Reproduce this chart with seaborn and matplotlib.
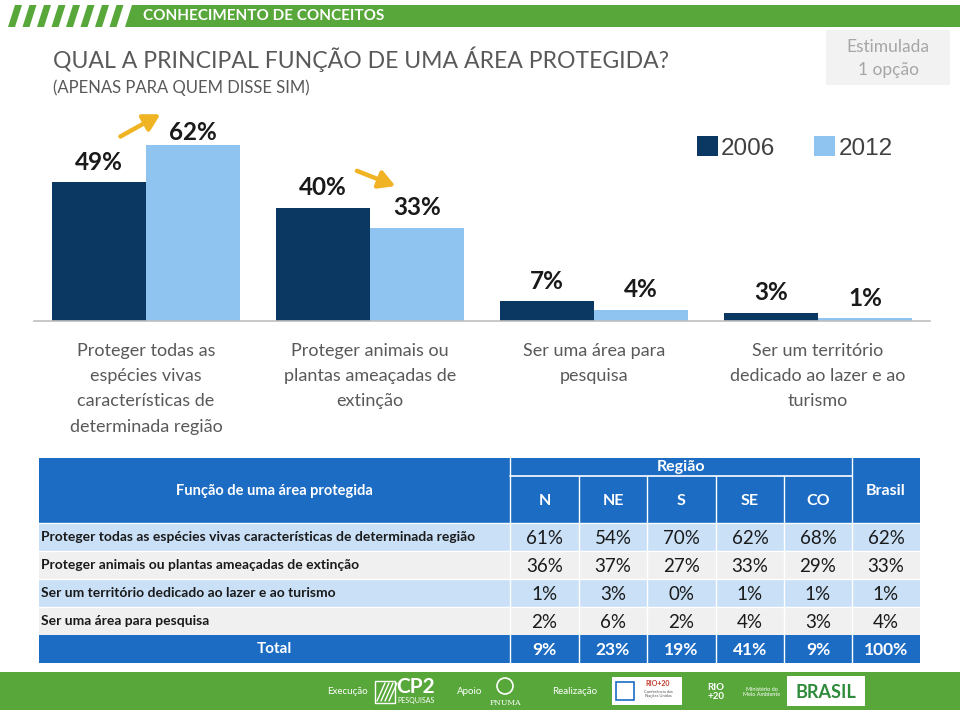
import pandas as pd
import seaborn as sns
import matplotlib.pyplot as plt
from matplotlib.patches import Rectangle, Polygon

# chart data
categorias = [
    "Proteger todas as\nespécies vivas\ncaracterísticas de\ndeterminada região",
    "Proteger animais ou\nplantas ameaçadas de\nextinção",
    "Ser uma área para\npesquisa",
    "Ser um território\ndedicado ao lazer e ao\nturismo",
]
anos = ["2006", "2012"]
valores_2006 = [49, 40, 7, 3]
valores_2012 = [62, 33, 4, 1]

# table data
regioes = ["N", "NE", "S", "SE", "CO"]
linhas = [
    "Proteger todas as espécies vivas características de determinada região",
    "Proteger animais ou plantas ameaçadas de extinção",
    "Ser um território dedicado ao lazer e ao turismo",
    "Ser uma área para pesquisa",
]
tabela = [
    [61, 54, 70, 62, 68, 62],
    [36, 37, 27, 33, 29, 33],
    [1, 3, 0, 1, 1, 1],
    [2, 6, 2, 4, 3, 4],
]
total = [9, 23, 19, 41, 9, 100]

sns.set_theme(style="white")
plt.rcParams["font.family"] = ["Lato", "DejaVu Sans"]

DARK = "#0B3763"
LIGHT = "#8FC3F0"
GREEN = "#58A73A"
BLUE = "#1C6CC4"

fig = plt.figure(figsize=(9.6, 7.1), dpi=100)

# background canvas in pixel units
bg = fig.add_axes([0, 0, 1, 1])
bg.set_xlim(0, 960)
bg.set_ylim(710, 0)
bg.axis("off")

# header band
for i in range(8):
    x0 = 8 + i * 14.5
    bg.add_patch(Polygon([(x0, 27), (x0 + 7, 27), (x0 + 14, 5), (x0 + 7, 5)], color=GREEN, lw=0))
bg.add_patch(Polygon([(125, 27), (960, 27), (960, 5), (132, 5)], color=GREEN, lw=0))
bg.text(143, 16.5, "CONHECIMENTO DE CONCEITOS", color="white", fontsize=11, fontweight="bold", va="center")

# title
bg.text(53, 59, "QUAL A PRINCIPAL FUNÇÃO DE UMA ÁREA PROTEGIDA?", color="#595959", fontsize=16.6, va="center")
bg.text(53, 88, "(APENAS PARA QUEM DISSE SIM)", color="#595959", fontsize=12, va="center")

# "Estimulada" box
bg.add_patch(Rectangle((826, 30), 124, 55, color="#F2F2F2", lw=0))
bg.text(888, 47, "Estimulada", color="#A6A6A6", fontsize=12.5, ha="center", va="center")
bg.text(888, 70, "1 opção", color="#A6A6A6", fontsize=12.5, ha="center", va="center")

# bar chart
df = pd.DataFrame({
    "categoria": categorias * 2,
    "ano": [anos[0]] * 4 + [anos[1]] * 4,
    "valor": valores_2006 + valores_2012,
})

ax = fig.add_axes([34 / 960, (710 - 321) / 710, 896 / 960, 201 / 710])
ax.set_facecolor("none")
sns.barplot(data=df, x="categoria", y="valor", hue="ano", palette=[DARK, LIGHT],
            width=0.84, saturation=1, linewidth=0, ax=ax)
ax.set_xlim(-0.5, 3.5)
ax.set_ylim(0, 71)
ax.set_yticks([])
ax.set_xlabel("")
ax.set_ylabel("")
for s in ["top", "left", "right"]:
    ax.spines[s].set_visible(False)
ax.spines["bottom"].set_color("#BFBFBF")
ax.spines["bottom"].set_linewidth(1.2)
ax.tick_params(axis="x", length=0, pad=16)
for lbl in ax.get_xticklabels():
    lbl.set_fontsize(13)
    lbl.set_color("#595959")
    lbl.set_linespacing(1.7)
    lbl.set_va("top")

for ci, cont in enumerate(ax.containers):
    for bi, bar in enumerate(cont):
        val = bar.get_height()
        pad = 1 if (ci == 1 and bi == 0) else 6
        ax.annotate(f"{val:.0f}%", (bar.get_x() + bar.get_width() / 2, val),
                    xytext=(0, pad), textcoords="offset points", ha="center", va="bottom",
                    fontsize=17.5, fontweight="bold", color="#1A1A1A", annotation_clip=False)

# trend arrows
arrows = [((-0.125, 64.7), (0.075, 73.5)), ((0.93, 53.4), (1.125, 47.3))]
for (x0, y0), (x1, y1) in arrows:
    ax.annotate("", xy=(x1, y1), xytext=(x0, y0), annotation_clip=False,
                arrowprops=dict(arrowstyle="-|>,head_length=0.8,head_width=0.45", color="#F0B323", lw=3.2))

leg = ax.legend(loc="center left", bbox_to_anchor=(675 / 960, (710 - 148) / 710),
                bbox_transform=fig.transFigure, ncol=2, frameon=False,
                handlelength=0.85, handleheight=0.85, handletextpad=0.15, columnspacing=1.6,
                prop={"family": "Liberation Sans", "size": 17.5})
for t in leg.get_texts():
    t.set_color("#404040")

# table
cols_x = [39, 510, 579, 647, 716, 784, 852, 920]
top, head_bot = 458, 523
row_h = 28
bg.add_patch(Rectangle((39, top), 881, head_bot - top, color=BLUE, lw=0))
bg.plot([510, 852], [476, 476], color="white", lw=1.2)
for x in cols_x[1:-1]:
    y0 = 476 if x not in (510, 852) else top
    bg.plot([x, x], [y0, head_bot], color="white", lw=1)
bg.text(274, 491, "Função de uma área protegida", color="white", fontsize=10.5, fontweight="bold", ha="center", va="center")
bg.text(681, 467, "Região", color="white", fontsize=11.5, fontweight="bold", ha="center", va="center")
for j, r in enumerate(regioes):
    bg.text((cols_x[j + 1] + cols_x[j + 2]) / 2, 501, r, color="white", fontsize=11.5,
            fontweight="bold", ha="center", va="center")
bg.text(886, 491, "Brasil", color="white", fontsize=11.5, fontweight="bold", ha="center", va="center")

for i, (nome, vals) in enumerate(zip(linhas, tabela)):
    y = head_bot + i * row_h
    bg.add_patch(Rectangle((39, y), 881, row_h, color="#C9E0F7" if i % 2 == 0 else "#F0F0F0", lw=0))
    bg.text(41, y + row_h / 2, nome, color="#1A1A1A", fontsize=10, fontweight="bold", va="center")
    for j, v in enumerate(vals):
        bg.text((cols_x[j + 1] + cols_x[j + 2]) / 2, y + row_h / 2 + 1, f"{v}%", color="#1A1A1A",
                fontsize=13.5, ha="center", va="center")
    for x in cols_x[1:-1]:
        bg.plot([x, x], [y, y + row_h], color="white", lw=1)
    bg.plot([39, 920], [y, y], color="white", lw=1)

y = head_bot + 4 * row_h
bg.add_patch(Rectangle((39, y), 881, row_h, color=BLUE, lw=0))
bg.text(274, y + row_h / 2, "Total", color="white", fontsize=11, fontweight="bold", ha="center", va="center")
for j, v in enumerate(total):
    bg.text((cols_x[j + 1] + cols_x[j + 2]) / 2, y + row_h / 2 + 1, f"{v}%", color="white",
            fontsize=12.5, fontweight="bold", ha="center", va="center")
for x in cols_x[1:-1]:
    bg.plot([x, x], [y, y + row_h], color="white", lw=1)

# footer band
bg.add_patch(Rectangle((0, 672), 960, 38, color=GREEN, lw=0))
bg.text(347, 692, "Execução", color="white", fontsize=7, ha="center", va="center")
bg.add_patch(Rectangle((375, 681), 20, 22, fill=False, edgecolor="white", lw=1))
for k in range(4):
    bg.plot([377 + k * 4, 385 + k * 4], [701, 683], color="white", lw=1)
bg.text(416, 687, "CP2", color="white", fontsize=15, fontweight="bold", ha="center", va="center")
bg.text(416, 701, "PESQUISAS", color="white", fontsize=5, ha="center", va="center")
bg.text(470, 692, "Apoio", color="white", fontsize=7, ha="center", va="center")
bg.add_patch(plt.Circle((505, 686), 8, fill=False, color="white", lw=1.2))
bg.text(505, 703, "PNUMA", color="white", fontsize=5.5, family="DejaVu Serif", ha="center", va="center")
bg.text(575, 692, "Realização", color="white", fontsize=7, ha="center", va="center")
bg.add_patch(Rectangle((612, 677), 70, 28, color="white", lw=0))
bg.add_patch(Rectangle((616, 682), 18, 18, fill=False, edgecolor="#1C6CC4", lw=1.2))
bg.text(658, 684, "RIO+20", color="#C0392B", fontsize=5, fontweight="bold", ha="center", va="center")
bg.text(658, 694, "Conferência das\nNações Unidas", color="#555555", fontsize=3, ha="center", va="center")
bg.text(716, 692, "RIO\n+20", color="white", fontsize=7, fontweight="bold", ha="center", va="center", linespacing=0.9)
bg.text(762, 692, "Ministério do\nMeio Ambiente", color="white", fontsize=4, ha="center", va="center")
bg.add_patch(Rectangle((787, 676), 78, 30, color="white", lw=0))
bg.text(826, 692, "BRASIL", color="#2E8B3A", fontsize=13, fontweight="bold", ha="center", va="center")

fig.savefig("out.png", dpi=100)
